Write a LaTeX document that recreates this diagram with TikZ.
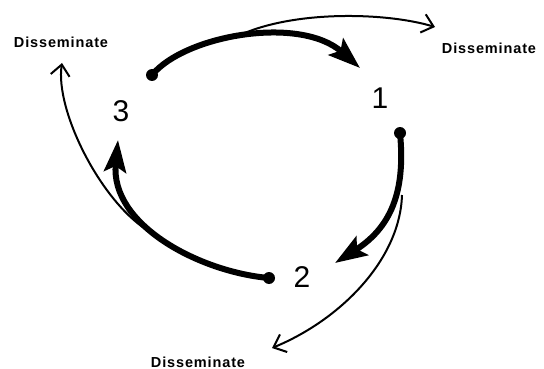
\documentclass[tikz,border=0pt]{standalone}
\usepackage{fontspec}
\setmainfont{Liberation Sans}
\newfontfamily\dissfont[LetterSpace=6]{Liberation Sans Bold}
\usetikzlibrary{arrows.meta}
\tikzset{
  dot/.style={circle,fill=black,inner sep=0pt,minimum size=12pt},
  diss/.style={font=\dissfont\fontsize{14.5}{16}\selectfont,inner sep=0pt},
  num/.style={font=\fontsize{30}{32}\selectfont,inner sep=0pt},
  thick arrow/.style={line width=6pt,-{Stealth[length=32pt,width=22pt,inset=6pt]}},
  thin arrow/.style={line width=2pt,-{Straight Barb[length=11pt,width=19pt,line width=2pt]}}
}
\begin{document}
\begin{tikzpicture}[x=1pt,y=-1pt]
\useasboundingbox (0,0) rectangle (544,369);
% texts
\node[diss] (dl) at (61,42) {Disseminate};
\node[diss] (dr) at (489,48) {Disseminate};
\node[diss] (db) at (198,362) {Disseminate};
\node[num] (n3) at (121,111) {3};
\node[num] (n1) at (380,98) {1};
\node[num] (n2) at (302,277) {2};
% dots
\node[dot] (d3) at (152,75) {};
\node[dot] (d1) at (400,133) {};
\node[dot] (d2) at (269,278) {};
% tips and branch points
\coordinate (t1) at (360,68);
\coordinate (t2) at (335,263);
\coordinate (t3) at (118,140);
\coordinate (b3) at (236,37);
\coordinate (b1) at (402,195);
\coordinate (b2) at (147,230);
\coordinate (s1) at (435,27);
\coordinate (s2) at (272,348);
\coordinate (s3) at (62,63);
% thin arrows
\draw[thin arrow] (b3) .. controls (290,10) and (385,12) .. (s1);
\draw[thin arrow] (b1) .. controls (400,260) and (340,320) .. (s2);
\draw[thin arrow] (b2) .. controls (100,200) and (55,110) .. (s3);
% thick arrows
\draw[thick arrow] (d3.center) .. controls (185,35) and (300,15) .. (t1);
\draw[thick arrow] (d1.center) .. controls (405,185) and (395,225) .. (t2);
\draw[thick arrow] (d2.center) .. controls (200,272) and (110,225) .. (t3);
\end{tikzpicture}
\end{document}
